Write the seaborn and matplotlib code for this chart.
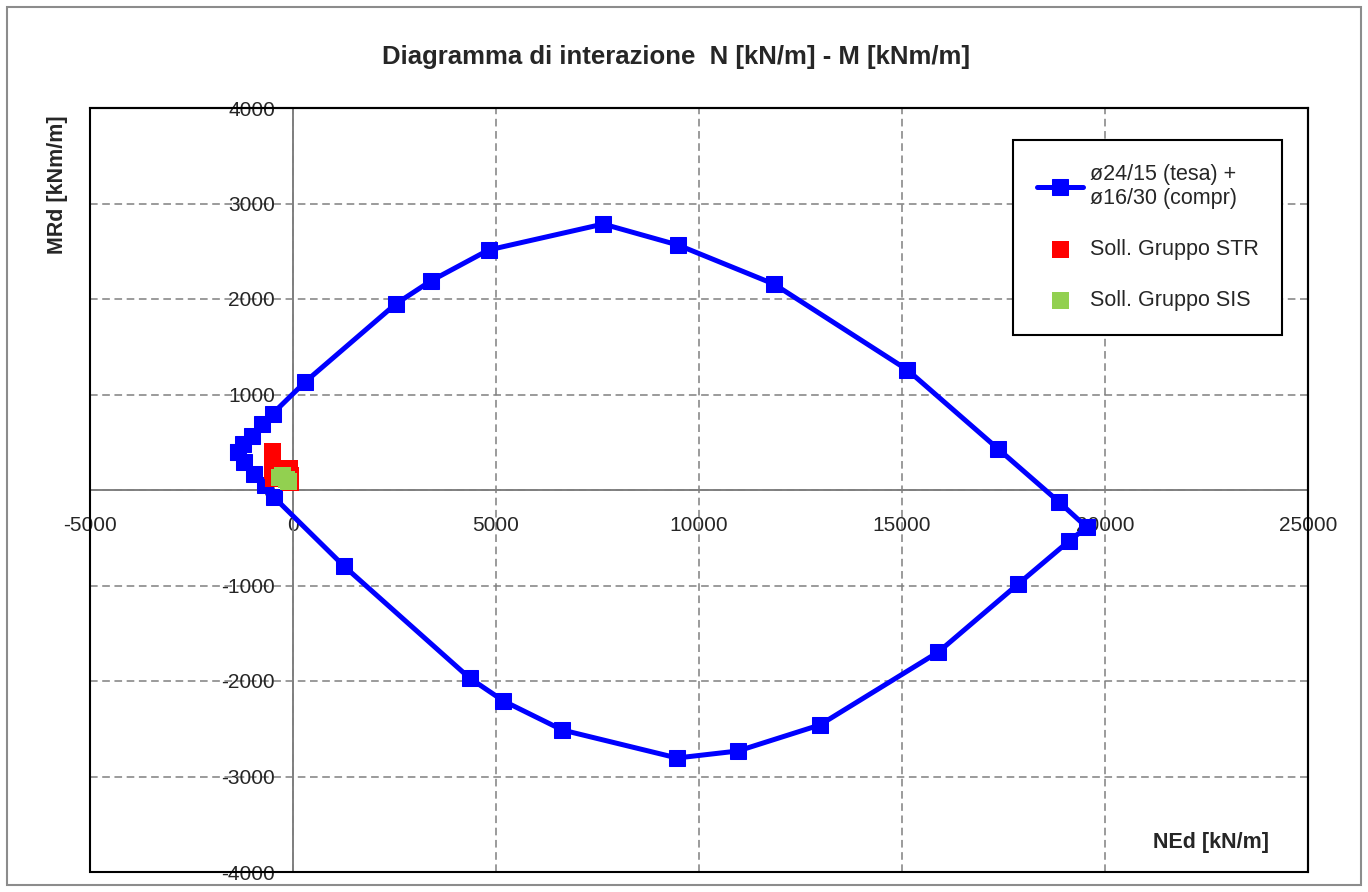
import numpy as np
import pandas as pd
import matplotlib
matplotlib.use("Agg")
import matplotlib.pyplot as plt
from matplotlib.patches import Rectangle
import seaborn as sns

# dominio di resistenza (percorso chiuso N - M)
n_rd = [-1351, -1230, -1000, -760, -500, 295, 2531, 3391, 4816, 7641, 9484, 11843,
        15135, 17371, 18870, 19550, 19115, 17862, 15897, 12973, 10958, 9459, 6634,
        5184, 4349, 1253, -470, -690, -950, -1200, -1351]
m_rd = [400, 480, 570, 690, 800, 1130, 1948, 2188, 2513, 2785, 2565, 2157,
        1257, 429, -126, -390, -534, -984, -1696, -2461, -2733, -2806, -2513,
        -2209, -1969, -796, -75, 50, 165, 290, 400]

# sollecitazioni gruppo STR
n_str = [-500, -500, -500, -480, -90, -60, -70]
m_str = [400, 300, 200, 120, 230, 150, 80]

# sollecitazioni gruppo SIS
n_sis = [-330, -250, -150, -120]
m_sis = [130, 150, 110, 90]

x_ticks = [-5000, 0, 5000, 10000, 15000, 20000, 25000]
y_ticks = [-4000, -3000, -2000, -1000, 0, 1000, 2000, 3000, 4000]

label_rd = "ø24/15 (tesa) +\nø16/30 (compr)"

sns.set_style("white")
plt.rcParams['font.family'] = ['Liberation Sans', 'DejaVu Sans']
plt.rcParams['axes.unicode_minus'] = False

fig = plt.figure(figsize=(13.68, 8.92), dpi=100)
ax = fig.add_axes([90 / 1368, 1 - 872 / 892, 1218 / 1368, 764 / 892])

sns.lineplot(x=n_rd, y=m_rd, sort=False, estimator=None, ax=ax,
             color='#0000FF', lw=3.6, marker='s', markersize=11,
             markeredgecolor='#0000FF', label=label_rd, zorder=3)
sns.scatterplot(x=n_str, y=m_str, marker='s', s=150, color='#FF0000',
                edgecolor='none', label='Soll. Gruppo STR', ax=ax, zorder=4)
sns.scatterplot(x=n_sis, y=m_sis, marker='s', s=150, color='#92D050',
                edgecolor='none', label='Soll. Gruppo SIS', ax=ax, zorder=5)

ax.set_xlim(-5000, 25000)
ax.set_ylim(-4000, 4000)
ax.set_xticks(x_ticks)
ax.set_yticks(y_ticks)
ax.set_xlabel('')
ax.set_ylabel('')

ax.grid(True, color='#808080', lw=1.1, ls=(0, (5, 3)))
ax.set_axisbelow(True)

# assi che passano per lo zero
for s in ['left', 'bottom']:
    ax.spines[s].set_position(('data', 0))
    ax.spines[s].set_color('#808080')
    ax.spines[s].set_linewidth(1.4)
    ax.spines[s].set_zorder(2)
for s in ['top', 'right']:
    ax.spines[s].set_color('black')
    ax.spines[s].set_linewidth(1.5)
ax.add_patch(Rectangle((0, 0), 1, 1, transform=ax.transAxes, fill=False,
                       ec='black', lw=1.5, clip_on=False, zorder=6))

ax.tick_params(axis='x', length=0, pad=19, labelsize=15)
ax.tick_params(axis='y', length=0, pad=13, labelsize=15)

leg = ax.legend(loc='upper left', bbox_to_anchor=(0.758, 0.958), fontsize=15.5,
                frameon=True, fancybox=False, edgecolor='black', framealpha=1,
                labelspacing=1.4, borderpad=1.1, handlelength=2.15,
                handletextpad=0.3, borderaxespad=0)
leg.get_frame().set_linewidth(1.5)

fig.text(676 / 1368, 1 - 57 / 892, 'Diagramma di interazione  N [kN/m] - M [kNm/m]',
         ha='center', va='center', fontsize=18.5, fontweight='bold')
fig.text(57 / 1368, 1 - 185 / 892, 'MRd [kNm/m]', rotation=90,
         ha='center', va='center', fontsize=15.5, fontweight='bold')
ax.text(0.920, 0.038, 'NEd [kN/m]', transform=ax.transAxes,
        ha='center', va='center', fontsize=15.5, fontweight='bold')

fig.add_artist(Rectangle((7 / 1368, 7 / 892), 1354 / 1368, 878 / 892,
                         transform=fig.transFigure, fill=False,
                         ec='#8c8c8c', lw=1.5))

fig.savefig('out.png', dpi=100)
